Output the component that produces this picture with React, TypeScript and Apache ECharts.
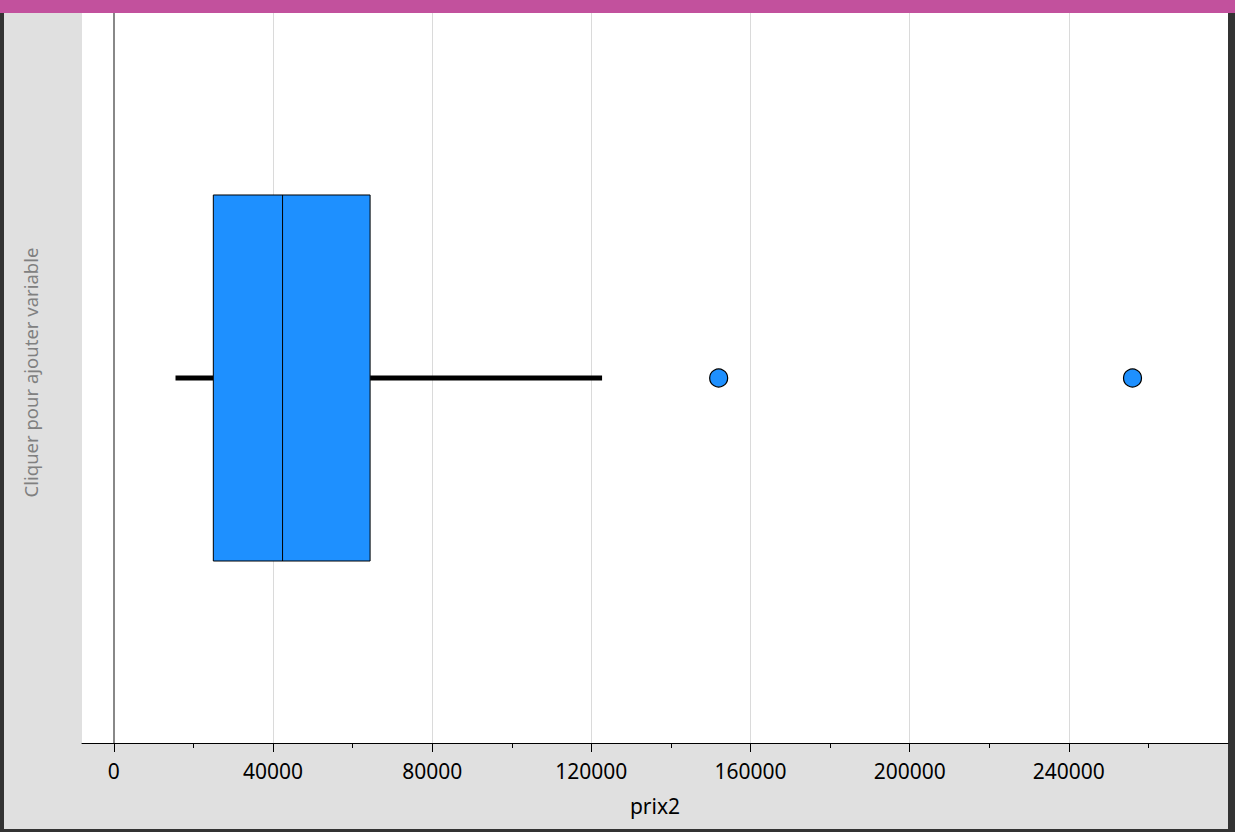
import React, { useEffect, useRef } from "react";
import * as echarts from "echarts";

// ---- data ----
const categories = ["prix2"];
// [low whisker, Q1, median, Q3, high whisker]
const boxStats = [15500, 25000, 42400, 64400, 122700];
const outliers = [152000, 256000];
const majorTicks = [0, 40000, 80000, 120000, 160000, 200000, 240000];
const minorTicks = [20000, 60000, 100000, 140000, 180000, 220000, 260000];
const axisMin = -8000;
const axisMax = 280000;
const xName = "prix2";
const yPlaceholder = "Cliquer pour ajouter variable";

const FONT = "Noto Sans";

export default function App() {
  const ref = useRef<HTMLDivElement>(null);
  useEffect(() => {
    document.body.style.margin = "0";
    const chart = echarts.init(ref.current!, null, { renderer: "svg" });
    const option: any = {
      animation: false,
      backgroundColor: "#E0E0E0",
      grid: {
        left: 82,
        right: 7,
        top: 13,
        bottom: 89,
        show: true,
        backgroundColor: "#FFFFFF",
        borderWidth: 0,
      },
      xAxis: [
        {
          type: "value",
          min: axisMin,
          max: axisMax,
          position: "bottom",
          axisLine: { show: true, onZero: false, lineStyle: { color: "#000", width: 1 } },
          axisTick: {
            show: true,
            customValues: majorTicks,
            length: 9,
            lineStyle: { color: "#000", width: 1 },
          },
          axisLabel: {
            customValues: majorTicks,
            formatter: (v: number) => String(v),
            fontFamily: FONT,
            fontSize: 21,
            color: "#000",
            margin: 17,
          },
          splitLine: { show: true, lineStyle: { color: "#DADADA", width: 1 } },
          name: xName,
          nameLocation: "middle",
          nameGap: 52,
          nameTextStyle: { fontFamily: FONT, fontSize: 21, color: "#000" },
        },
        {
          type: "value",
          min: axisMin,
          max: axisMax,
          position: "bottom",
          axisLine: { show: false },
          axisTick: {
            show: true,
            customValues: minorTicks,
            length: 5,
            lineStyle: { color: "#000", width: 1 },
          },
          axisLabel: { show: false },
          splitLine: { show: false },
        },
      ],
      yAxis: {
        type: "category",
        data: categories,
        axisLine: { show: false },
        axisTick: { show: false },
        axisLabel: { show: false },
        splitLine: { show: false },
      },
      graphic: [
        { type: "rect", shape: { x: 0, y: 0, width: 4, height: 832 }, style: { fill: "#333333" } },
        { type: "rect", shape: { x: 1228, y: 0, width: 7, height: 832 }, style: { fill: "#333333" } },
        { type: "rect", shape: { x: 0, y: 829, width: 1235, height: 3 }, style: { fill: "#333333" } },
        { type: "rect", shape: { x: 0, y: 0, width: 1235, height: 13 }, style: { fill: "#C2519D" } },
        {
          type: "text",
          x: 30.5,
          y: 372.5,
          rotation: Math.PI / 2,
          style: {
            text: yPlaceholder,
            fontFamily: FONT,
            fontSize: 18.5,
            fill: "#808080",
            textAlign: "center",
            textVerticalAlign: "middle",
          },
        },
      ],
      series: [
        {
          type: "custom",
          xAxisIndex: 0,
          data: [[0, ...boxStats]],
          encode: { x: [1, 2, 3, 4, 5], y: 0 },
          renderItem: (params: any, api: any) => {
            const cat = api.value(0);
            const lo = api.coord([api.value(1), cat]);
            const q1 = api.coord([api.value(2), cat]);
            const med = api.coord([api.value(3), cat]);
            const q3 = api.coord([api.value(4), cat]);
            const hi = api.coord([api.value(5), cat]);
            const band = api.size([0, 1])[1];
            const h = band * 0.5014;
            const cy = q1[1];
            return {
              type: "group",
              children: [
                {
                  type: "line",
                  shape: { x1: lo[0], y1: cy, x2: q1[0], y2: cy },
                  style: { stroke: "#000", lineWidth: 5 },
                },
                {
                  type: "line",
                  shape: { x1: q3[0], y1: cy, x2: hi[0], y2: cy },
                  style: { stroke: "#000", lineWidth: 5 },
                },
                {
                  type: "rect",
                  shape: { x: q1[0], y: cy - h / 2, width: q3[0] - q1[0], height: h },
                  style: { fill: "#1E90FF", stroke: "#000", lineWidth: 1 },
                },
                {
                  type: "line",
                  shape: { x1: med[0], y1: cy - h / 2, x2: med[0], y2: cy + h / 2 },
                  style: { stroke: "#000", lineWidth: 1 },
                },
              ],
            };
          },
        },
        {
          type: "scatter",
          xAxisIndex: 0,
          data: outliers.map((v) => [v, 0]),
          symbol: "circle",
          symbolSize: 18,
          itemStyle: { color: "#1E90FF", borderColor: "#000", borderWidth: 1.2, opacity: 1 },
          markLine: {
            silent: true,
            symbol: ["none", "none"],
            label: { show: false },
            lineStyle: { color: "#888888", width: 2, type: "solid" },
            data: [{ xAxis: 0 }],
          },
          z: 3,
        },
      ],
    };
    chart.setOption(option);
    return () => chart.dispose();
  }, []);
  return (
    <div
      ref={ref}
      style={{ position: "fixed", left: 0, top: 0, width: 1235, height: 832 }}
    />
  );
}
